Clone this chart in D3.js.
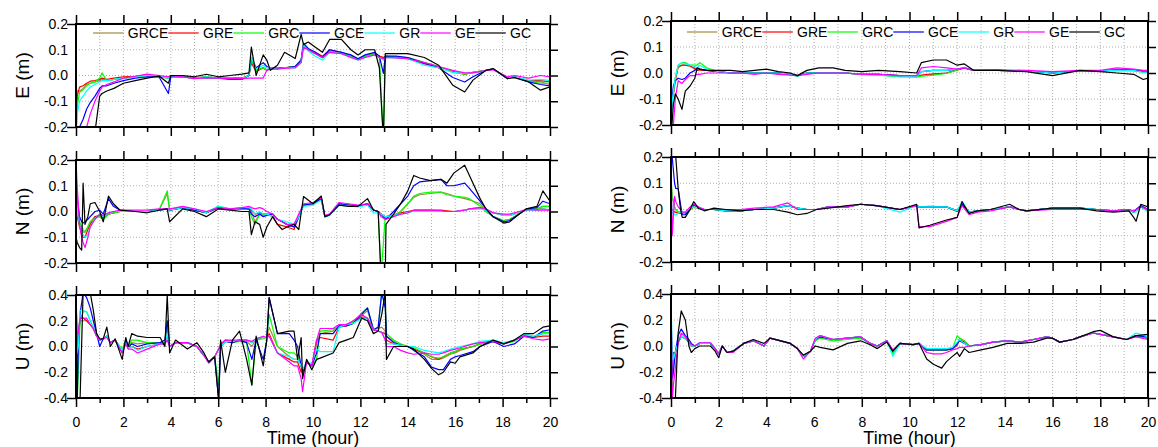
<!DOCTYPE html>
<html><head><meta charset="utf-8">
<script src="https://cdn.jsdelivr.net/npm/d3@7"></script>
<style>body{margin:0;background:#fff}svg{display:block}text{font-family:Arial,"Liberation Sans",sans-serif}</style>
</head><body><svg id="c" width="1158" height="447"></svg>
<script>
const seriesNames = ["GRCE","GRE","GRC","GCE","GR","GE","GC"];
const seriesColors = ["#a08c3c","#ff0000","#00ff00","#0000ff","#00ffff","#ff00ff","#000000"];
const hourMajor = [0,2,4,6,8,10,12,14,16,18,20];
const hourMinor = [1,3,5,7,9,11,13,15,17,19];
const yTicksEN = [-0.2,-0.1,0,0.1,0.2];
const yTicksU = [-0.4,-0.2,0,0.2,0.4];
const panelLabels = ["E (m)","N (m)","U (m)"];
const xTitle = "Time (hour)";

// ---------- Left column, E ----------
const tLE = [0,0.05,0.15,0.3,0.45,0.6,0.8,1.0,1.1,1.3,
1.6,2.0,2.5,3.0,3.5,3.9,4.0,4.5,5.0,5.5,
6.0,6.5,7.0,7.3,7.4,7.6,7.9,8.05,8.2,8.5,
8.8,9.25,9.5,9.6,9.8,10.1,10.4,10.7,11.2,11.6,
11.9,12.2,12.6,12.8,12.97,13.05,13.5,14.0,14.7,15.3,
15.9,16.4,16.75,17.3,17.6,18.2,18.5,19.1,19.6,20.0];
const LE_GRCE = [-0.25,-0.06,-0.06,-0.05,-0.035,-0.03,-0.025,-0.02,-0.015,-0.02,
-0.015,-0.01,-0.005,0,-0.005,-0.01,0,-0.005,-0.01,-0.005,
-0.01,-0.01,-0.01,0,0.06,0.02,0.03,0.02,0.03,0.028,
0.03,0.035,0.06,0.12,0.1,0.085,0.07,0.095,0.09,0.075,
0.065,0.075,0.085,0.075,0.07,0.07,0.07,0.07,0.05,0.035,
0.015,0.005,0.012,0.02,0.025,-0.01,-0.005,-0.02,-0.025,-0.035];
const LE_GRE = [-0.25,-0.08,-0.045,-0.04,-0.03,-0.022,-0.02,-0.015,-0.01,-0.015,
-0.01,-0.005,-0.003,0.002,-0.003,-0.008,0,-0.003,-0.008,-0.005,
-0.01,-0.008,-0.01,0,0.05,0.015,0.03,0.02,0.03,0.028,
0.03,0.035,0.06,0.12,0.1,0.09,0.075,0.1,0.09,0.075,
0.065,0.075,0.085,0.075,0.07,0.075,0.07,0.065,0.045,0.03,
0.015,0.005,0.012,0.02,0.025,-0.01,-0.005,-0.02,-0.02,-0.025];
const LE_GRC = [-0.25,-0.12,-0.065,-0.055,-0.04,-0.03,-0.025,-0.01,0.01,-0.02,
-0.015,-0.01,-0.005,0,-0.005,-0.01,0,-0.005,-0.01,-0.005,
-0.01,-0.01,-0.012,0,0.06,0.02,0.03,0.02,0.03,0.028,
0.03,0.035,0.06,0.12,0.1,0.085,0.068,0.095,0.09,0.075,
0.062,0.075,0.085,0.073,-0.25,0.075,0.072,0.07,0.05,0.035,
0.012,0.005,0.012,0.02,0.025,-0.012,-0.005,-0.022,-0.03,-0.03];
const LE_GCE = [-0.3,-0.2,-0.2,-0.17,-0.13,-0.105,-0.08,-0.05,-0.04,-0.04,
-0.03,-0.02,-0.01,-0.005,-0.005,-0.07,-0.005,-0.005,-0.01,-0.008,
-0.01,-0.015,-0.015,0,0.07,0.03,0.05,0.035,0.03,0.028,
0.03,0.035,0.06,0.125,0.105,0.09,0.07,0.1,0.09,0.08,
0.065,0.08,0.09,0.075,0.008,0.075,0.075,0.07,0.048,0.03,
-0.008,-0.025,-0.005,0.02,0.025,-0.012,-0.005,-0.025,-0.035,-0.04];
const LE_GR = [-0.25,-0.15,-0.1,-0.08,-0.06,-0.045,-0.035,-0.025,-0.02,-0.02,
-0.015,-0.01,-0.005,0,0,-0.01,0,-0.005,-0.01,-0.005,
-0.01,-0.01,-0.012,0,0.07,0.025,0.04,0.03,0.03,0.025,
0.03,0.03,0.05,0.115,0.095,0.075,0.06,0.09,0.085,0.07,
0.06,0.07,0.08,0.07,0.06,0.07,0.068,0.065,0.04,0.03,
0.012,0.008,0.01,0.02,0.025,-0.01,-0.005,-0.018,-0.015,-0.02];
const LE_GE = [-0.3,-0.25,-0.22,-0.2,-0.2,-0.15,-0.1,-0.06,-0.045,-0.035,
-0.025,-0.01,-0.003,0.005,0,-0.005,0,-0.005,-0.012,-0.008,
-0.01,-0.012,-0.012,-0.01,-0.01,-0.01,-0.01,0.02,0.025,0.025,
0.028,0.03,0.05,0.11,0.1,0.085,0.07,0.09,0.085,0.07,
0.06,0.07,0.08,0.07,0.065,0.07,0.068,0.065,0.05,0.035,
0.02,0.01,0.01,0.02,0.022,-0.005,0,-0.01,0,-0.005];
const LE_GC = [-0.3,-0.3,-0.3,-0.3,-0.3,-0.3,-0.22,-0.08,-0.07,-0.06,
-0.05,-0.03,-0.02,-0.01,-0.002,-0.03,0,0,-0.005,0.005,
-0.005,0,0.005,0.01,0.11,0,0.08,0.06,0.02,0.04,
0.09,0.066,0.16,0.12,0.13,0.11,0.09,0.14,0.14,0.1,
0.08,0.1,0.1,0.03,-0.25,0.085,0.085,0.085,0.07,0.04,
-0.038,-0.064,-0.018,0.02,0.027,-0.012,-0.008,-0.025,-0.057,-0.044];

// ---------- Left column, N ----------
const tLN = [0,0.05,0.15,0.24,0.3,0.38,0.5,0.6,0.8,1.0,
1.15,1.37,1.58,1.86,2.5,3.0,3.5,3.85,3.95,4.5,
5.0,5.5,6.0,6.5,7.0,7.3,7.4,7.55,7.75,7.9,
8.05,8.3,8.5,8.7,8.9,9.2,9.4,9.6,10.0,10.35,
10.5,10.7,11.1,11.5,11.9,12.3,12.55,12.75,12.87,13.05,
13.08,13.4,13.7,14.0,14.25,14.5,14.95,15.4,15.65,15.95,
16.4,16.6,17.05,17.3,17.6,18.05,18.3,18.7,19.0,19.45,
19.7,20.0];
const LN_GRCE = [0.1,0.0,-0.05,-0.07,-0.08,-0.08,-0.06,-0.04,-0.02,-0.02,
-0.03,-0.01,-0.005,0,0,0,0.005,0.07,0.005,0.015,
0.005,-0.005,0.015,0.01,0.01,0.01,0,-0.04,-0.01,-0.01,
-0.01,-0.01,-0.03,-0.04,-0.05,-0.06,-0.02,0.025,0.03,0.05,
-0.02,-0.013,0.03,0.025,0.02,0.03,0.006,0,-0.01,-0.02,
-0.02,-0.015,0,0.03,0.055,0.065,0.07,0.075,0.07,0.06,
0.05,0.045,0.03,0,-0.02,-0.035,-0.03,-0.01,0.01,0.01,
0.02,0.02];
const LN_GRE = [0.0,-0.02,-0.06,-0.09,-0.1,-0.1,-0.07,-0.05,-0.02,-0.015,
-0.025,-0.01,-0.005,0,0,0,0.005,0.01,0.005,0.015,
0.005,-0.005,0.015,0.01,0.012,0.01,0.005,-0.01,-0.005,-0.01,
-0.01,-0.02,-0.05,-0.055,-0.06,-0.07,-0.02,0.025,0.03,0.05,
-0.02,-0.013,0.03,0.025,0.02,0.03,0.006,0,-0.01,-0.02,
-0.02,-0.015,-0.005,0,0.005,0.005,0.005,0.005,0.003,0,
0.005,0.01,0.015,0.008,-0.005,-0.015,-0.015,-0.005,0.005,0.008,
0.01,0.005];
const LN_GRC = [0.12,0.02,-0.04,-0.06,-0.07,-0.08,-0.06,-0.04,-0.025,-0.02,
-0.03,-0.01,-0.005,0,0,0,0.005,0.08,0.005,0.015,
0.005,-0.005,0.02,0.01,0.01,0.01,-0.02,-0.05,-0.01,-0.015,
-0.01,-0.01,-0.03,-0.04,-0.05,-0.06,-0.02,0.025,0.03,0.05,
-0.02,-0.013,0.03,0.025,0.02,0.03,0.006,0,-0.25,-0.02,
-0.02,-0.02,0,0.03,0.06,0.07,0.075,0.075,0.065,0.06,
0.055,0.05,0.02,0,-0.02,-0.035,-0.03,-0.01,0.01,0.01,
0.02,0.02];
const LN_GCE = [0.15,0.05,-0.02,-0.04,-0.045,-0.04,-0.03,-0.02,0,0.005,
-0.01,0.05,0.02,0.005,0,0,0.005,0.01,0.005,0.015,
0.005,-0.005,0.015,0.01,0.012,0.01,-0.01,-0.02,-0.01,-0.02,
-0.015,-0.01,-0.03,-0.04,-0.05,-0.06,-0.02,0.025,0.03,0.05,
-0.02,-0.013,0.03,0.025,0.02,0.03,0.006,0,-0.01,-0.03,
-0.03,0,0.03,0.06,0.1,0.115,0.12,0.125,0.1,0.1,
0.11,0.09,0.04,0.01,-0.02,-0.04,-0.035,-0.01,0.01,0.015,
0.04,0.03];
const LN_GR = [0.12,0.0,-0.05,-0.08,-0.09,-0.1,-0.09,-0.06,-0.03,-0.01,
-0.02,-0.005,0,0,0,0,0.005,0.01,0.005,0.015,
0.01,-0.005,0.02,0.01,0.015,0.015,0.01,-0.01,0,-0.01,
-0.01,-0.02,-0.03,-0.035,-0.04,-0.05,-0.02,0.02,0.025,0.045,
-0.02,-0.015,0.025,0.022,0.018,0.025,-0.005,-0.005,-0.01,-0.02,
-0.02,-0.015,-0.01,-0.005,0,0,0,0,0,0,
0.005,0.008,0.01,0.005,-0.005,-0.015,-0.015,-0.005,0.005,0.005,
0.01,0.005];
const LN_GE = [0.2,0.1,-0.05,-0.1,-0.12,-0.14,-0.1,-0.06,-0.03,-0.01,
-0.015,-0.005,0,0.005,0.005,0.005,0.01,0.01,0.01,0.02,
0.01,0,0.015,0.01,0.015,0.02,0.015,0.01,0.015,0.01,
0,-0.01,-0.03,-0.04,-0.05,-0.05,-0.01,0.03,0.035,0.055,
-0.015,-0.01,0.035,0.03,0.025,0.03,0.005,0,-0.02,-0.03,
-0.03,-0.02,-0.01,-0.005,0.005,0.005,0.005,0.003,0,0,
0.005,0.01,0.015,0.01,-0.005,-0.01,-0.01,0,0.008,0.005,
0.005,0.005];
const LN_GC = [-0.1,-0.12,-0.14,-0.15,0.11,-0.05,-0.02,0.03,0.035,0,
-0.04,0.06,0.03,0.005,0,-0.005,0.005,0.01,-0.04,0.01,
0,-0.02,0.01,0.005,0,0,-0.09,-0.04,-0.05,-0.1,
-0.06,-0.02,-0.05,-0.07,-0.06,-0.05,-0.07,0.058,0.03,0.06,
-0.02,-0.013,0.025,0.02,0.02,0.05,0.006,0,-0.25,-0.25,
-0.05,-0.01,0.03,0.08,0.14,0.13,0.12,0.125,0.11,0.15,
0.18,0.14,0.05,0.01,-0.02,-0.045,-0.04,-0.01,0.01,0.02,
0.08,0.04];

// ---------- Left column, U ----------
const tLU = [0,0.05,0.1,0.17,0.3,0.45,0.6,0.73,0.87,1.0,
1.15,1.3,1.45,1.65,1.95,2.1,2.2,2.35,2.6,3.0,
3.55,3.75,3.85,3.95,4.2,4.7,5.1,5.4,5.6,5.85,
6.02,6.1,6.3,6.6,6.9,7.2,7.42,7.6,7.9,8.05,
8.15,8.5,9.0,9.2,9.35,9.5,9.56,9.73,9.95,10.15,
10.3,10.85,11.1,11.4,11.7,12.05,12.3,12.55,12.75,12.9,
13.05,13.1,13.4,13.7,14.0,14.25,14.7,15.0,15.3,15.5,
15.8,16.0,16.2,16.75,17.05,17.6,18.05,18.5,18.9,19.3,
19.7,20.0];
const LU_GRCE = [0.4,-0.1,0,0.2,0.2,0.2,0.17,0.14,0.08,0.05,
0.06,0.08,0.03,0.05,-0.03,0.04,-0.01,0.03,0.02,0.03,
0.03,0.02,0.15,0,0.03,0.03,0,-0.07,-0.12,-0.08,
-0.02,0,0.04,0.04,0.05,0.04,0,0.06,0.07,0.07,
0.15,0,-0.08,-0.1,-0.1,-0.15,-0.2,-0.12,-0.15,0.02,
0.1,0.12,0.16,0.17,0.19,0.24,0.28,0.13,0.14,0.15,
0.12,0.08,0.04,0.01,0,-0.02,-0.06,-0.1,-0.1,-0.09,
-0.06,-0.05,-0.03,0,0.02,0.04,0.02,0.05,0.09,0.07,
0.1,0.11];
const LU_GRE = [0.4,0,0.1,0.22,0.22,0.2,0.17,0.14,0.08,0.05,
0.06,0.08,0.03,0.05,-0.04,0.03,-0.01,0,-0.02,0,
0.02,0.02,0.1,0,0.03,0.03,0,-0.07,-0.12,-0.08,
-0.02,0,0.05,0.04,0.05,0.05,0.03,0.06,0.07,0.07,
0.1,-0.05,-0.1,-0.12,-0.12,-0.2,-0.2,-0.12,-0.15,0.05,
0.07,0.05,0.15,0.16,0.18,0.23,0.22,0.13,0.12,0.11,
0.1,0.05,0.02,0.01,0,-0.02,-0.05,-0.08,-0.1,-0.08,
-0.05,-0.04,-0.02,0,0.02,0.04,0.02,0.05,0.08,0.07,
0.08,0.08];
const LU_GRC = [0,-0.42,-0.2,0.2,0.27,0.27,0.2,0.15,0.08,0.05,
0.06,0.08,0.03,0.05,-0.02,0.05,0,0.05,0.05,0.03,
0.03,0.03,0.2,0,0.03,0.03,0,-0.07,-0.12,-0.08,
-0.3,0,0.04,0.03,0.04,0.03,-0.3,0.05,0.06,0.07,
0.25,0,-0.05,-0.05,-0.08,-0.15,-0.2,-0.12,-0.15,-0.1,
0.12,0.13,0.16,0.17,0.19,0.26,0.3,0.13,0.15,0.42,
0.3,0.1,0.05,0.02,0,-0.01,-0.05,-0.08,-0.09,-0.08,
-0.05,-0.04,-0.02,0,0.02,0.04,0.02,0.04,0.09,0.07,
0.11,0.11];
const LU_GCE = [0.4,-0.42,0,0.25,0.42,0.38,0.3,0.2,0.1,0,
0.06,0.08,0.03,0.05,-0.05,0.05,-0.01,0.02,0,0.02,
0.03,0.05,0.2,0,0.03,0.03,0,-0.07,-0.12,-0.08,
-0.42,0,0.04,0.03,0.05,0.03,-0.1,0.05,-0.1,0.05,
0.38,0.1,0.1,0.05,0,-0.15,-0.2,-0.12,-0.15,-0.05,
0.1,0.1,0.16,0.16,0.18,0.25,0.3,0.13,0.15,0.42,
0.3,0.08,0.03,0.01,0,-0.03,-0.08,-0.16,-0.18,-0.18,
-0.1,-0.08,-0.07,-0.04,0,0.04,0,0.02,0.08,0.07,
0.12,0.13];
const LU_GR = [0.4,-0.05,0,0.28,0.28,0.27,0.2,0.15,0.08,0.05,
0.06,0.08,0.03,0.05,-0.03,0.03,-0.01,0,-0.03,0,
0.02,0.02,0.1,0,0.03,0.03,0,-0.07,-0.12,-0.08,
-0.02,0,0.04,0.04,0.05,0.05,0.03,0.06,0.07,0.07,
0.08,-0.05,-0.08,-0.1,-0.1,-0.15,-0.18,-0.12,-0.13,-0.02,
-0.04,-0.04,0.15,0.17,0.18,0.22,0.22,0.13,0.12,0.11,
0.05,0.02,0.02,0.01,0,0,-0.03,-0.04,-0.05,-0.04,
-0.02,-0.01,0,0.02,0.04,0.05,0.03,0.05,0.1,0.08,
0.1,0.1];
const LU_GE = [0.4,0.1,0.1,0.22,0.22,0.22,0.17,0.14,0.08,0.05,
0.06,0.07,0.03,0.05,-0.05,0.02,-0.02,-0.02,-0.05,-0.02,
0.02,0.02,0.05,0,0.03,0.03,0,-0.07,-0.13,-0.08,
-0.02,0.02,0.05,0.05,0.05,0.05,0.04,0.06,0.08,0.07,
0.08,-0.05,-0.12,-0.15,-0.15,-0.25,-0.35,-0.12,-0.15,0.05,
0.14,0.14,0.17,0.17,0.2,0.25,0.22,0.13,0.12,0.11,
0.05,0,0,-0.03,-0.05,-0.06,-0.05,-0.06,-0.06,-0.05,
-0.03,-0.02,-0.01,0.02,0.03,0.04,0.02,0.05,0.08,0.06,
0.05,0.06];
const LU_GC = [0.4,-0.42,-0.42,-0.42,0.42,0.42,0.42,0.28,0.1,0.06,
0.06,0.15,0,0.06,-0.1,0.07,0,0.1,0.08,0.07,
0.07,0,0.4,-0.05,0.05,-0.02,0.03,-0.05,-0.12,-0.08,
-0.42,0.05,-0.2,0.05,0.12,-0.1,-0.3,0.08,-0.15,0.05,
0.38,0.1,0.12,0.12,-0.1,0.07,-0.25,-0.1,-0.18,-0.1,
-0.09,-0.05,0.03,0.05,0.07,0.22,0.2,0.1,0.12,0.25,
0.42,-0.1,0,0,0,-0.02,-0.1,-0.17,-0.22,-0.2,
-0.12,-0.13,-0.08,-0.05,0,0.05,0.02,0.05,0.1,0.1,
0.15,0.16];

// ---------- Right column, E ----------
const tRE = [0,0.04,0.1,0.18,0.3,0.46,0.6,0.8,1.0,1.1,
1.2,1.5,2.0,2.5,3.0,3.5,4.0,4.5,5.0,5.3,
5.7,6.2,6.8,7.3,8.0,8.7,9.6,10.3,10.5,11.0,
11.55,12.0,12.3,12.7,13.7,14.9,16.0,17.15,18.0,18.7,
19.4,19.8,20.0];
const RE_GRCE = [-0.2,-0.08,-0.08,-0.02,0.02,0.03,0.03,0.025,0.02,0.01,
0.015,0.01,0.005,0,0,0,0,0,-0.005,-0.01,
0,0,0,0,-0.005,-0.005,-0.012,-0.015,-0.01,-0.005,
0,0.012,0.02,0.01,0.01,0.008,0,0.008,0.008,0.01,
0.01,0.005,0.005];
const RE_GRE = [-0.2,-0.1,-0.08,-0.03,0.025,0.03,0.03,0.028,0.015,0.01,
0.012,0.01,0.005,0,0,0,0,0,-0.005,-0.01,
0,0,0,0,-0.005,-0.005,-0.01,-0.012,-0.008,-0.003,
0,0.012,0.02,0.01,0.01,0.008,0,0.008,0.008,0.012,
0.012,0.008,0.008];
const RE_GRC = [-0.2,-0.12,-0.08,-0.02,0.03,0.04,0.04,0.03,0.03,0.03,
0.04,0.02,0.005,0,0,0,0,0,-0.005,-0.012,
0,0,0,0,-0.005,-0.008,-0.015,-0.015,-0.012,-0.008,
-0.002,0.012,0.02,0.01,0.01,0.008,0,0.008,0.008,0.01,
0.008,0.003,0.003];
const RE_GCE = [-0.2,-0.1,-0.05,-0.03,-0.02,-0.025,-0.02,0,0.01,0.02,
0.015,0.01,0.005,0,0,0,0,0,-0.005,-0.01,
0,0,0,0,-0.005,-0.005,-0.01,-0.01,0.005,0.01,
0.01,0.015,0.02,0.01,0.01,0.008,0,0.008,0.008,0.012,
0.012,0.005,0.005];
const RE_GR = [-0.2,-0.12,-0.07,-0.02,0.03,0.04,0.035,0.03,0.025,0.02,
0.03,0.015,0.005,0,0,0,0,0,-0.005,-0.012,
0,0,0,0,-0.005,-0.008,-0.012,-0.015,0.005,0.01,
0.01,0.015,0.022,0.01,0.01,0.008,0,0.008,0.008,0.01,
0.01,0.003,0.003];
const RE_GE = [-0.2,-0.2,-0.2,-0.1,-0.03,-0.04,-0.025,-0.01,-0.01,-0.005,
-0.005,0,0,0,0,-0.005,0,-0.005,-0.008,-0.01,
-0.005,0,0,0,-0.005,-0.005,-0.01,-0.01,0.02,0.025,
0.02,0.015,0.02,0.01,0.012,0.01,0.005,0.01,0.01,0.02,
0.015,0.01,0.01];
const RE_GC = [-0.2,-0.2,-0.12,-0.08,-0.1,-0.14,-0.07,-0.05,-0.02,0.02,
0.015,0.01,0.01,0.01,0.005,0.01,0.015,0.005,0,-0.01,
0.01,0.02,0.02,0.01,0.005,0.01,0.005,0,0.04,0.05,
0.05,0.03,0.035,0.01,0.01,0.005,-0.01,0.01,0.005,0,
-0.005,-0.025,-0.02];

// ---------- Right column, N ----------
const tRN = [0,0.05,0.15,0.2,0.3,0.4,0.47,0.6,0.8,0.95,
1.15,1.4,1.8,2.3,2.9,3.5,4.3,4.9,5.3,5.7,
6.1,6.6,7.4,7.95,8.6,9.6,10.3,10.4,10.85,11.55,
12.0,12.2,12.5,12.85,13.4,14.2,14.6,14.9,16.0,17.15,
17.85,18.55,19.2,19.4,19.5,19.7,20.0];
const RN_GRCE = [0.1,0.05,0.01,0,-0.01,-0.01,-0.015,-0.015,0,0.01,
0.005,0,0,-0.005,-0.005,0,0.005,0.015,0.005,0,
0,0.01,0.01,0.02,0.015,0,0.015,0.01,0.01,0.01,
-0.005,0.02,-0.01,-0.005,0,0.01,0,-0.005,0.005,0.005,
0,-0.005,0,-0.01,0,0.01,0];
const RN_GRE = [0,0,-0.01,-0.01,-0.015,-0.015,-0.015,-0.015,0,0.01,
0.005,0,0,-0.005,-0.005,0,0.005,0.015,0.005,0,
0,0.01,0.01,0.02,0.015,0,0.015,0.01,0.012,0.01,
-0.008,0.02,-0.01,-0.005,0,0.01,0,-0.005,0.005,0.005,
0,-0.005,0,-0.01,0,0.01,0];
const RN_GRC = [0.12,0.05,0.01,0,-0.01,-0.01,-0.015,-0.015,0,0.01,
0.005,0,0,-0.005,-0.005,0,0.005,0.015,0.005,0,
0,0.01,0.01,0.02,0.015,0,0.015,0.01,0.01,0.01,
-0.005,0.025,-0.01,-0.005,0,0.01,0,-0.005,0.005,0.005,
0,-0.005,0,-0.01,0,0.01,-0.005];
const RN_GCE = [0.2,0.2,0.1,0.08,0.08,0.02,-0.02,-0.02,0,0.02,
0.005,0,0,-0.005,-0.005,0,0.005,0.015,0.005,0,
0,0.01,0.01,0.02,0.015,0,0.015,0.01,0.01,0.01,
-0.005,0.02,-0.01,-0.005,0,0.01,0,-0.005,0.005,0.005,
0,-0.005,0,-0.01,0,0.015,0];
const RN_GR = [0.05,-0.01,-0.02,-0.02,-0.015,-0.01,-0.01,-0.01,0.005,0.01,
0.005,0,0,-0.005,-0.005,0,0.005,0.015,0.005,0,
0,0.01,0.01,0.02,0.015,-0.01,0.015,0.01,0.01,0.01,
-0.005,0.03,-0.01,-0.005,0,0.01,0,-0.005,0.005,0.005,
0,-0.005,0,-0.01,-0.01,0.01,-0.01];
const RN_GE = [0.2,-0.1,0.05,0.03,0.01,0,-0.01,-0.01,0.01,0.02,
0.01,0,0,0,0,0.005,0.01,0.025,0,0,
0,0.01,0.01,0.02,0.015,0,0.015,-0.065,-0.065,-0.045,
-0.03,0.015,-0.02,-0.01,-0.005,0.01,0,-0.005,0,0,
0,-0.005,0,-0.005,0,0.01,0];
const RN_GC = [0.2,0.22,0.22,0.2,0.08,0,-0.03,-0.03,0,0.03,
0.005,-0.005,0.005,0,-0.005,0,0,-0.01,-0.02,-0.015,
0,0.005,0.015,0.02,0.015,0,0.02,-0.07,-0.06,-0.04,
-0.03,0.03,-0.015,-0.005,0,0.02,0,-0.005,0.005,0.005,
-0.005,-0.01,-0.005,-0.03,-0.045,0.02,0.01];

// ---------- Right column, U ----------
const tRU = [0,0.05,0.1,0.18,0.3,0.43,0.6,0.75,0.85,1.0,
1.2,1.65,1.85,2.0,2.15,2.35,2.6,3.05,3.45,3.9,
4.15,4.6,5.0,5.3,5.55,5.85,6.05,6.25,6.8,7.4,
7.95,8.35,8.65,9.05,9.3,9.6,10.15,10.4,10.72,11.0,
11.35,11.55,11.8,12.0,12.1,12.3,12.5,13.0,13.5,14.1,
14.65,15.2,15.75,16.0,16.3,16.85,17.15,17.7,18.0,18.55,
19.1,19.5,20.0];
const RU_GRCE = [0,-0.3,-0.1,-0.05,0.03,0.07,0.06,0.03,0,0,
0.02,0.02,-0.02,-0.06,0,-0.05,-0.04,0.02,0.04,0,
0.06,0.04,0.02,-0.02,-0.08,-0.04,0.05,0.07,0.05,0.06,
0.07,0.02,0,0.04,-0.03,0.02,0.01,0.02,-0.03,-0.03,
-0.03,-0.03,-0.02,0,0.06,0.04,0,0.01,0.03,0.04,
0.03,0.05,0.07,0.06,0.03,0.05,0.07,0.1,0.09,0.07,
0.05,0.08,0.06];
const RU_GRE = [0.2,-0.1,-0.05,-0.05,0.03,0.07,0.06,0.03,0,0,
0.02,0.02,-0.02,-0.06,0,-0.05,-0.04,0.02,0.04,0,
0.06,0.04,0.02,-0.02,-0.08,-0.04,0.05,0.08,0.05,0.06,
0.07,0.02,0,0.04,-0.04,0.02,0.01,0.02,-0.03,-0.03,
-0.03,-0.03,-0.02,0.01,0.05,0.03,0,0.01,0.03,0.04,
0.03,0.05,0.07,0.06,0.03,0.05,0.07,0.1,0.09,0.07,
0.05,0.08,0.06];
const RU_GRC = [-0.3,-0.35,-0.15,-0.05,0.03,0.07,0.06,0.03,0,0,
0.02,0.02,-0.02,-0.06,0,-0.05,-0.04,0.02,0.04,0,
0.06,0.04,0.02,-0.02,-0.08,-0.04,0.04,0.06,0.04,0.05,
0.06,0.02,0,0.04,-0.06,0.02,0.01,0.02,-0.03,-0.03,
-0.03,-0.03,-0.02,0.08,0.06,0.04,0,0.01,0.03,0.04,
0.03,0.05,0.07,0.06,0.03,0.05,0.07,0.1,0.09,0.07,
0.05,0.08,0.06];
const RU_GCE = [0.4,-0.25,-0.2,-0.05,0.08,0.13,0.08,0.05,0.02,0,
0.02,0.02,-0.02,-0.06,0,-0.05,-0.04,0.02,0.04,0,
0.06,0.04,0.02,-0.02,-0.08,-0.04,0.05,0.07,0.05,0.06,
0.07,0.02,0,0.04,-0.04,0.02,0.01,0.02,-0.03,-0.03,
-0.03,-0.03,-0.02,0.02,0.04,0.02,0,0.01,0.03,0.04,
0.03,0.05,0.07,0.06,0.03,0.05,0.07,0.1,0.09,0.07,
0.05,0.08,0.07];
const RU_GR = [0.4,-0.1,-0.1,-0.05,0.03,0.08,0.06,0.03,0,0,
0.02,0.02,-0.02,-0.06,0,-0.05,-0.04,0.02,0.04,0,
0.06,0.04,0.02,-0.02,-0.08,-0.04,0.05,0.08,0.05,0.06,
0.07,0.02,0,0.04,-0.08,0.02,0.01,0.02,-0.02,-0.02,
-0.02,-0.02,-0.01,0.03,0.05,0.02,0,0.01,0.03,0.04,
0.03,0.05,0.07,0.06,0.03,0.05,0.07,0.1,0.09,0.07,
0.05,0.1,0.07];
const RU_GE = [0.4,-0.42,-0.3,-0.18,0.02,0.1,0.07,0.03,0.01,0,
0.025,0.025,-0.02,-0.06,0,-0.05,-0.05,0.02,0.04,0,
0.06,0.04,0.02,-0.02,-0.1,-0.04,0.06,0.08,0.05,0.06,
0.07,0.02,0,0.04,-0.03,0.02,0.01,0.02,-0.05,-0.06,
-0.06,-0.05,-0.03,-0.02,-0.01,-0.01,0,0.01,0.03,0.04,
0.03,0.05,0.07,0.06,0.03,0.05,0.07,0.1,0.09,0.07,
0.05,0.07,0.05];
const RU_GC = [-0.4,-0.42,-0.42,-0.42,0.1,0.27,0.2,0,-0.05,-0.02,
0,0,-0.04,-0.09,0,-0.05,-0.04,0.02,0.05,0.02,
0.06,0.04,0.02,-0.02,-0.07,-0.04,0,-0.01,-0.03,0.02,
0.04,0.01,-0.02,0.03,-0.04,0.02,0.01,0.02,-0.1,-0.14,
-0.17,-0.12,-0.08,-0.05,-0.08,-0.02,-0.05,-0.03,-0.01,0.02,
0.02,0.03,0.06,0.06,0.03,0.05,0.07,0.11,0.12,0.07,
0.05,0.08,0.09];

// ---------- layout ----------
const W = 1158, H = 447;
const colX = [[76,550],[671,1148]];
const rowY = [[[24,127],[160,263],[295,398]],[[21,125],[157,262],[294,398]]];
const titleX = [22,617];
const legendStart = [93,687];
const legendY = [33,32];

const panels = [
  {col:0,row:0,t:tLE,s:[LE_GRCE,LE_GRE,LE_GRC,LE_GCE,LE_GR,LE_GE,LE_GC],ticks:yTicksEN},
  {col:0,row:1,t:tLN,s:[LN_GRCE,LN_GRE,LN_GRC,LN_GCE,LN_GR,LN_GE,LN_GC],ticks:yTicksEN},
  {col:0,row:2,t:tLU,s:[LU_GRCE,LU_GRE,LU_GRC,LU_GCE,LU_GR,LU_GE,LU_GC],ticks:yTicksU},
  {col:1,row:0,t:tRE,s:[RE_GRCE,RE_GRE,RE_GRC,RE_GCE,RE_GR,RE_GE,RE_GC],ticks:yTicksEN},
  {col:1,row:1,t:tRN,s:[RN_GRCE,RN_GRE,RN_GRC,RN_GCE,RN_GR,RN_GE,RN_GC],ticks:yTicksEN},
  {col:1,row:2,t:tRU,s:[RU_GRCE,RU_GRE,RU_GRC,RU_GCE,RU_GR,RU_GE,RU_GC],ticks:yTicksU}
];

const svg = d3.select("#c");
const defs = svg.append("defs");
const fmtY = d => (Math.abs(d) < 1e-9 ? 0 : d).toFixed(1);

function styleAxis(g){
  g.select(".domain").remove();
  g.selectAll(".tick line").attr("stroke","#000").attr("stroke-width",1.5);
  g.selectAll("text").attr("fill","#000").attr("font-size",14).attr("font-family","Arial, 'Liberation Sans', sans-serif");
}

panels.forEach((p,i)=>{
  const [x0,x1] = colX[p.col];
  const [y0,y1] = rowY[p.col][p.row];
  const dom = [p.ticks[0], p.ticks[p.ticks.length-1]];
  const x = d3.scaleLinear().domain([0,20]).range([x0,x1]);
  const y = d3.scaleLinear().domain(dom).range([y1,y0]);
  const g = svg.append("g");

  defs.append("clipPath").attr("id","cp"+i).append("rect")
    .attr("x",x0).attr("y",y0).attr("width",x1-x0).attr("height",y1-y0);

  // grid
  const grid = g.append("g").attr("stroke","#9a9a9a").attr("stroke-width",0.8).attr("stroke-dasharray","1,2");
  grid.selectAll("line.v").data(d3.range(1,20)).join("line").attr("class","v")
    .attr("x1",d=>x(d)).attr("x2",d=>x(d)).attr("y1",y0).attr("y2",y1);
  grid.selectAll("line.h").data(p.ticks.slice(1,-1)).join("line").attr("class","h")
    .attr("x1",x0).attr("x2",x1).attr("y1",d=>y(d)).attr("y2",d=>y(d));

  // series
  const line = d3.line().x(d=>x(d[0])).y(d=>y(d[1]));
  g.append("g").attr("clip-path",`url(#cp${i})`)
    .selectAll("path").data(p.s).join("path")
    .attr("d",s=>line(p.t.map((t,k)=>[t,s[k]])))
    .attr("fill","none")
    .attr("stroke",(s,k)=>seriesColors[k])
    .attr("stroke-width",1.2)
    .attr("stroke-linejoin","round");

  // frame
  g.append("rect").attr("x",x0).attr("y",y0).attr("width",x1-x0).attr("height",y1-y0)
    .attr("fill","none").attr("stroke","#000").attr("stroke-width",2);

  // top axis ticks
  g.append("g").attr("transform",`translate(0,${y0})`)
    .call(d3.axisTop(x).tickValues(hourMajor).tickSize(9).tickFormat("")).call(styleAxis);
  g.append("g").attr("transform",`translate(0,${y0})`)
    .call(d3.axisTop(x).tickValues(hourMinor).tickSize(5).tickFormat("")).call(styleAxis);
  // bottom axis
  g.append("g").attr("transform",`translate(0,${y1})`)
    .call(d3.axisBottom(x).tickValues(hourMajor).tickSize(9).tickPadding(10)
      .tickFormat(p.row===2 ? d=>String(d) : "")).call(styleAxis);
  g.append("g").attr("transform",`translate(0,${y1})`)
    .call(d3.axisBottom(x).tickValues(hourMinor).tickSize(5).tickFormat("")).call(styleAxis);
  // right axis ticks
  g.append("g").attr("transform",`translate(${x1},0)`)
    .call(d3.axisRight(y).tickValues(p.ticks).tickSize(8).tickFormat("")).call(styleAxis);
  // left axis: labels + end ticks
  g.append("g").attr("transform",`translate(${x0},0)`)
    .call(d3.axisLeft(y).tickValues(p.ticks).tickSize(0).tickPadding(8).tickFormat(fmtY)).call(styleAxis);
  g.append("g").attr("transform",`translate(${x0},0)`)
    .call(d3.axisLeft(y).tickValues(dom).tickSize(9).tickFormat("")).call(styleAxis);

  // axis title
  g.append("text").attr("transform",`translate(${titleX[p.col]},${(y0+y1)/2}) rotate(-90)`)
    .attr("text-anchor","middle").attr("dominant-baseline","central")
    .attr("font-size",19).text(panelLabels[p.row]);

  if (p.row===2){
    g.append("text").attr("x",(x0+x1)/2).attr("y",444).attr("text-anchor","middle")
      .attr("font-size",18).text(xTitle);
  }

  // legend
  if (p.row===0){
    const lg = g.append("g");
    let cx = legendStart[p.col];
    const ly = legendY[p.col];
    seriesNames.forEach((n,k)=>{
      lg.append("line").attr("x1",cx).attr("x2",cx+30.5).attr("y1",ly).attr("y2",ly)
        .attr("stroke",seriesColors[k]).attr("stroke-width",1.2);
      const tx = lg.append("text").attr("x",cx+34.8).attr("y",ly).attr("dominant-baseline","central")
        .attr("font-size",14).text(n);
      const w = tx.node().getComputedTextLength();
      cx = cx + 34.8 + w;
    });
  }
});
</script>
</body></html>
